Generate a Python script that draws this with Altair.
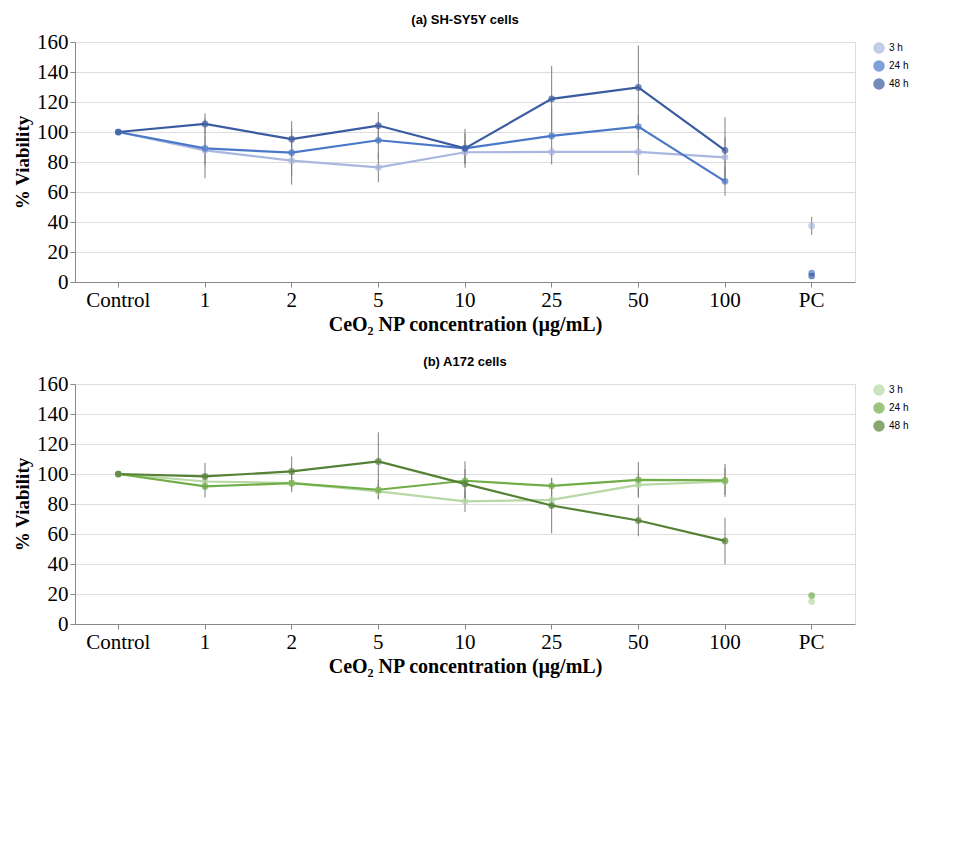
import altair as alt
import pandas as pd

FONT = "Liberation Serif"

cats = ["Control", "1", "2", "5", "10", "25", "50", "100", "PC"]
conc = cats[:8]
series = ["3 h", "24 h", "48 h"]

a_title = "(a)   SH-SY5Y cells"
a_3h = [100, 87.8, 80.9, 76.4, 86.5, 86.7, 86.7, 83.1]
a_24h = [100, 89.1, 86.2, 94.5, 89.1, 97.4, 103.6, 67.1]
a_48h = [100, 105.4, 95.2, 104.3, 89.1, 122.1, 129.7, 87.8]
a_3h_err = [0, 10, 16, 10, 8, 3, 15.5, 13.4]
a_24h_err = [0, 20, 16, 12.5, 10, 19, 8, 9.5]
a_48h_err = [0, 7, 12, 9, 13, 22, 28, 22]
a_pc_vals = [37.4, 6, 4]
a_pc_errs = [6, 0, 0]
a_colors = ["#aab7df", "#4a78c8", "#3a5ba0"]

b_title = "(b)   A172 cells"
b_3h = [100, 95, 93.9, 88.4, 81.7, 82.8, 92.8, 95]
b_24h = [100, 91.7, 93.9, 89.5, 95.5, 92.1, 96.1, 95.7]
b_48h = [100, 98.4, 101.7, 108.4, 93.4, 79, 69, 55.4]
b_3h_err = [0, 4, 4, 5, 7, 5, 8, 9]
b_24h_err = [0, 7.4, 6, 6.5, 13, 5, 12, 11]
b_48h_err = [0, 9, 10, 19.4, 10, 18.5, 10.5, 15.5]
b_pc_vals = [15, 19]
b_pc_errs = [0, 0]
b_colors = ["#b8d8a5", "#70ad47", "#548235"]

x_title = "CeO\u2082 NP concentration (\u00b5g/mL)"
y_title = "% Viability"


def panel(title, vals, errs, pc_vals, pc_errs, colors):
    rows = []
    for s, vs, es in zip(series, vals, errs):
        for c, v, e in zip(conc, vs, es):
            rows.append({"cat": c, "series": s, "v": v, "lo": v - e, "hi": v + e})
    df = pd.DataFrame(rows)
    pc_rows = []
    for s, v, e in zip(series, pc_vals, pc_errs):
        pc_rows.append({"cat": "PC", "series": s, "v": v, "lo": v - e, "hi": v + e})
    dfall = pd.concat([df, pd.DataFrame(pc_rows)], ignore_index=True)
    X = alt.X("cat:N", sort=cats, scale=alt.Scale(domain=cats),
              axis=alt.Axis(title=x_title, labelAngle=0, labelFont=FONT, labelFontSize=21,
                            titleFont=FONT, titleFontSize=20))
    Y = alt.Y("v:Q", scale=alt.Scale(domain=[0, 160]),
              axis=alt.Axis(title=y_title, titleFont=FONT, titleFontSize=19,
                            labelFont=FONT, labelFontSize=21))
    cscale = alt.Scale(domain=series, range=colors)
    rules = alt.Chart(dfall).mark_rule(color="#7f7f7f").encode(x=X, y="lo:Q", y2="hi:Q")
    lines = alt.Chart(df).mark_line(strokeWidth=2.2).encode(
        x=X, y=Y, color=alt.Color("series:N", scale=cscale, title=None))
    pts = alt.Chart(dfall).mark_point(filled=True, size=45).encode(
        x=X, y=Y, color=alt.Color("series:N", scale=cscale, title=None))
    return alt.layer(lines, rules, pts).properties(width=780, height=240, title=title)


chart_a = panel(a_title, [a_3h, a_24h, a_48h], [a_3h_err, a_24h_err, a_48h_err],
                a_pc_vals, a_pc_errs, a_colors)
chart_b = panel(b_title, [b_3h, b_24h, b_48h], [b_3h_err, b_24h_err, b_48h_err],
                b_pc_vals, b_pc_errs, b_colors)

chart = alt.vconcat(chart_a, chart_b).resolve_scale(color="independent")

chart.save("out.html", embed_options={"renderer": "svg", "actions": False})
